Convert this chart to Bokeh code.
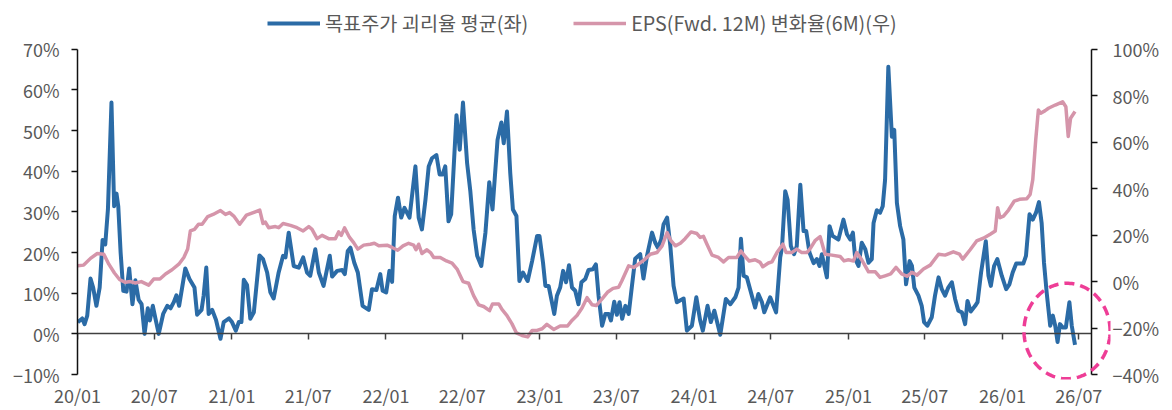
import numpy as np
import pandas as pd
from bokeh.plotting import figure
from bokeh.models import (Range1d, LinearAxis, FixedTicker, Legend, LegendItem, PolyAnnotation)
from bokeh.embed import file_html
from bokeh.resources import INLINE

# ---- data (weeks since 2020-01-01, values in %) ----
blue_week = [0.1,1.6,2.4,3.3,4.4,5.3,6.4,7.5,8.5,9.4,
             10.3,11.5,12.4,13.2,13.8,14.6,15.5,16.6,17.5,18.6,
             19.6,20.7,21.7,22.7,23.8,24.5,25.5,26.5,27.5,29.0,
             30.4,31.5,32.6,33.5,34.4,36.5,37.9,39.6,40.5,42.0,
             42.7,43.6,44.4,45.6,46.9,48.4,49.5,51.3,52.3,53.6,
             54.6,55.5,56.3,57.4,58.5,59.7,61.6,62.8,64.2,65.3,
             66.4,68.1,69.6,70.4,71.5,73.2,74.9,76.4,77.7,78.8,
             80.5,81.7,83.3,85.4,86.2,87.9,89.6,90.5,91.5,92.4,
             93.7,94.9,96.5,98.6,99.7,101.2,102.5,103.3,104.5,105.6,
             106.5,107.4,108.5,109.6,110.7,112.4,114.4,115.5,116.6,117.8,
             118.9,120.0,121.5,122.6,123.6,124.5,125.6,126.5,128.3,129.4,
             130.5,131.9,133.0,134.1,135.3,136.7,138.1,139.4,140.5,142.2,
             143.5,144.3,145.4,146.5,147.4,148.6,149.6,150.8,152.4,153.9,
             155.6,156.4,157.6,158.4,159.5,161.4,162.3,163.4,164.4,165.4,
             166.4,167.4,168.5,169.6,170.6,171.9,173.0,174.5,175.5,176.4,
             177.6,178.7,179.8,180.6,181.7,182.6,183.5,184.4,185.5,186.6,
             187.7,188.8,190.5,191.6,192.8,194.5,195.6,196.5,197.6,198.4,
             199.6,200.7,201.8,202.9,205.2,206.3,208.0,209.5,210.8,211.7,
             213.3,214.4,215.6,217.6,219.5,221.0,222.7,223.8,224.6,225.5,
             226.6,228.3,229.4,230.5,231.7,232.5,234.5,236.5,237.9,238.5,
             239.6,240.4,241.5,242.6,243.5,244.7,245.8,246.7,247.8,249.2,
             250.3,251.2,252.0,253.7,254.6,255.6,257.6,259.3,260.5,261.6,
             262.5,263.3,264.4,265.5,266.7,267.8,268.9,269.5,270.6,271.7,
             272.6,273.4,274.5,275.7,276.5,277.4,278.5,279.6,280.5,281.7,
             282.5,283.3,284.7,285.8,286.6,287.7,289.2,290.3,291.5,292.6,
             293.7,294.8,296.0,297.1,298.2,299.4,300.5,301.3,302.4,303.9,
             304.7,305.9,307.5,308.4,309.2,310.3,311.4,312.9,314.4,315.5,
             316.6,317.8,320.2,321.1,322.3,323.4,324.5,325.5,326.4,327.2,
             328.1,329.3,330.2,331.0,331.8,332.6,333.5,334.6,335.8,336.6,
             337.7]
blue_val = [2.9,3.8,2.4,4.5,13.6,11.4,6.9,11.4,23.1,22,
            30.6,56.9,31.4,34.5,31.4,20,10.6,10.4,16.1,7.3,
            13.2,8.4,7.3,0,6.3,3.3,6.9,3.4,0,4.9,
            6.9,6.3,7.8,9.5,6.9,16.1,13.5,11.4,4.7,5.9,
            9.4,16.3,4.9,5.9,3.4,-1.2,2.9,3.8,2.9,0.8,
            2.9,2.9,13.3,12,3.7,5.3,19.3,18.4,15.1,10.2,
            8.7,15.1,19.2,18.8,24.9,16.7,16.3,18.8,15.1,14.3,
            20.8,15.1,11.8,19.2,14.1,15.5,15.7,14.7,20.4,21.2,
            17.5,15.1,6.9,5.9,11,10.8,14.7,10.6,10.2,15.5,
            12.8,29,33.5,28.6,31,28.6,41.2,28.6,25.7,33,
            41.2,43.2,44,39.2,39.2,41.2,27.7,29.4,53.8,45.3,
            56.9,42,35,25.7,19.2,16.7,24.9,37.3,30.6,47.7,
            52,46.9,54.7,39.6,30.6,29,13,15.1,13,17.9,
            24.1,24.1,17.5,11.8,11.8,4.9,9.4,11.4,15.5,12.7,
            16.9,11.4,10.6,7.3,12.7,13.5,15.7,15.9,17.1,9.4,
            2,4.9,4.9,3.3,7.9,4.7,7.8,3.7,6.9,4.9,
            11.8,18.5,19.6,13.6,19.2,24.9,22.4,21.2,23.2,26.9,
            28.6,21.6,11.8,7.8,8.7,0.8,2,9,3.3,0.8,
            6.9,2.9,5.7,-0.2,8.6,7.3,9,11.4,23.4,14.3,
            13.9,9.4,6.5,9.8,7.8,5.3,9,5.3,18.8,21.2,
            35.1,33,21.6,19.6,21.6,36.7,25.3,25.3,20,17.4,
            18.4,16.7,19.6,13.9,26.5,24.1,23.2,28.1,24.5,23.2,
            24.9,18.4,16.7,22.4,20.8,17.5,18.4,27.3,30.4,29.8,
            31.4,37.9,65.7,48.5,50.2,32.2,26.5,23.2,12.2,17.9,
            16.7,11.4,9.4,6.9,2.9,2,4.1,9.4,13.9,11,
            9.4,11.4,12.7,8.6,5.7,5.3,2.4,8.1,5.5,6.9,
            7.8,15.1,22.8,14.3,11.8,16.7,18.4,14.3,11,12.2,
            15.1,17.3,17.3,19.2,29.4,28.1,29.8,32.4,27.3,17.5,
            10.2,2,4.5,2,-2,2.4,1.6,1.6,7.8,2,
            -2.7]

pink_week = [0.1,2.1,4.4,6.7,8.9,10.6,12.5,14.3,16.2,17.9,
             19.6,21.6,24.1,25.8,27.9,29.8,32.0,34.3,36.0,37.3,
             38.2,39.6,41.0,42.2,44.1,45.9,48.4,50.1,51.5,52.9,
             54.9,57.2,59.5,61.7,62.8,63.6,64.7,67.0,68.1,69.6,
             72.1,74.3,76.4,78.3,79.4,81.1,82.8,85.0,87.3,88.4,
             89.3,90.4,92.1,93.5,94.9,96.9,99.1,100.5,102.0,104.8,
             106.5,108.4,110.2,112.1,113.8,114.6,115.5,116.6,118.3,119.5,
             120.6,122.8,124.9,126.8,128.5,130.5,132.4,134.1,135.8,137.5,
             139.5,140.5,142.6,143.7,145.4,147.1,148.6,150.5,152.4,153.9,
             155.6,157.3,158.9,161.2,163.4,165.9,167.4,169.1,170.8,172.5,
             174.2,175.6,177.6,179.4,181.3,183.2,184.3,186.6,188.3,189.9,
             192.2,193.9,196.2,197.9,199.6,200.7,202.4,204.1,205.7,207.7,
             209.7,210.8,211.9,213.1,214.8,217.0,218.7,220.4,223.2,224.6,
             226.0,227.4,229.4,231.1,232.0,233.9,235.1,236.8,238.8,239.9,
             241.8,243.5,245.2,246.9,248.1,249.8,251.4,253.1,255.4,258.2,
             259.5,261.0,262.7,263.8,265.5,267.8,270.1,271.7,273.4,275.3,
             277.1,279.0,280.8,282.5,284.2,286.4,288.7,291.5,293.7,296.5,
             298.6,299.7,302.2,304.4,306.7,309.0,310.7,311.5,312.3,313.5,
             315.2,317.1,318.9,321.4,322.5,323.4,324.4,325.3,326.1,327.6,
             328.7,331.0,333.5,334.6,335.4,336.2,337.7]
pink_val = [6.8,7.1,10,12.1,11.8,7.5,3.7,0.8,-0.3,0,
            -0.6,0,-1.5,1.1,1.1,3.3,5.1,7.5,10.4,14,
            21.8,22.5,24.7,24.7,28,28.9,30.6,28.9,29.7,28.2,
            24.7,28.6,29.7,30.8,25,25.6,23.2,23.7,23.2,25,
            24.2,23.2,21.8,23.7,22.5,18.5,19.9,18.5,18.5,21.4,
            19.9,23.1,19,16.8,14,15.7,16.1,16.5,15.4,15.7,
            14.7,13.5,15.4,16.5,15.7,13.7,16.1,12.1,13.7,12.5,
            10.4,10.4,8.9,8,5.4,0,-0.7,-6,-10,-10.7,
            -12.5,-9.6,-9.6,-12,-14.6,-18.2,-22.1,-23.2,-23.8,-21,
            -21,-20.3,-18.4,-20.6,-19.1,-19.1,-16.7,-14.6,-11.4,-6.9,
            -10,-10.3,-7.4,-4.6,-2.9,-2.4,0.4,6.8,6.1,7.5,
            9.7,11.8,12.5,15.4,21.1,18,15.4,16.5,18.5,21.4,
            20.7,19,19.5,16.1,11.4,10.4,8.5,10.4,10.4,13.2,
            10.8,8.9,9.4,8.3,6.4,8,8.5,12.5,16.1,12.5,
            12.5,14,12.5,12.5,14.3,17.8,19.4,11.8,11.4,10.8,
            8.9,9.4,8.9,12.5,9.4,4.2,4.2,1.8,2.5,3.3,
            6.1,3.3,2.3,4,2.8,5.4,7.1,11.8,11.4,12.8,
            11.8,9.7,13.7,17.5,18.7,20.4,21.8,31.8,27.5,28.2,
            30.8,34.6,35.4,35.7,37.5,43.9,61,73.9,72.5,73.6,
            74.6,76,77.4,75.3,62.5,70.3,73.2]

series_names = ["목표주가 괴리율 평균(좌)", "EPS(Fwd. 12M) 변화율(6M)(우)"]
tick_dates = ["2020-01-01", "2020-07-01", "2021-01-01", "2021-07-01", "2022-01-01",
              "2022-07-01", "2023-01-01", "2023-07-01", "2024-01-01", "2024-07-01",
              "2025-01-01", "2025-07-01", "2026-01-01", "2026-07-01"]
left_ticks = [-10, 0, 10, 20, 30, 40, 50, 60, 70]
right_ticks = [-40, -20, 0, 20, 40, 60, 80, 100]
axis_start, axis_end = "2020-01-01", "2026-08-01"

BLUE = "#2B6BA6"
PINK = "#D595AA"
MAGENTA = "#EE3D96"
TXT = "#595959"
FONT = "Noto Sans CJK KR"

def ms(d):
    return pd.Timestamp(d).value / 1e6

base = pd.Timestamp(axis_start)
blue_x = base + pd.to_timedelta(np.array(blue_week) * 7, unit="D")
pink_x = base + pd.to_timedelta(np.array(pink_week) * 7, unit="D")

# The plotting frame is a bit larger than the drawn axes (axes use bounds), so that
# the legend at the top and the highlight ellipse at the right are not clipped.
L_LO, L_HI = -11.22, 80.03          # left scale limits of the frame
K = 140 / 80                        # right scale units per left unit
p = figure(width=1172, height=410, output_backend="svg", toolbar_location=None,
           x_axis_type=None, y_axis_type=None,
           x_range=Range1d(pd.Timestamp(axis_start), pd.Timestamp("2026-09-14")),
           y_range=Range1d(L_LO, L_HI),
           min_border_left=77, min_border_right=62, min_border_top=8, min_border_bottom=29)
p.extra_y_ranges = {"right": Range1d(-40 + (L_LO + 10) * K, 100 + (L_HI - 70) * K)}
p.outline_line_color = None
p.background_fill_color = "white"
p.border_fill_color = "white"

tick_ms = [ms(d) for d in tick_dates]
tick_text = [pd.Timestamp(d).strftime("%y/%m") for d in tick_dates]

# zero line with downward ticks (at y = 0), no labels
xa_line = LinearAxis(ticker=FixedTicker(ticks=tick_ms),
                     major_label_overrides={m: "" for m in tick_ms},
                     fixed_location=0, bounds=(ms(axis_start), ms(axis_end)),
                     major_label_text_font_size="1px",
                     major_tick_in=6, major_tick_out=0, minor_tick_line_color=None,
                     axis_line_color="#404040", axis_line_width=1.5,
                     major_tick_line_color="#404040", major_tick_line_width=1.5,
                     major_label_standoff=0)
p.add_layout(xa_line, "above")

# labels at the bottom
xa_lab = LinearAxis(ticker=FixedTicker(ticks=tick_ms),
                    major_label_overrides=dict(zip(tick_ms, tick_text)),
                    axis_line_color=None, major_tick_line_color=None, minor_tick_line_color=None,
                    major_tick_in=0, major_tick_out=0, major_label_standoff=2,
                    major_label_text_font=FONT, major_label_text_font_size="18px",
                    major_label_text_color=TXT)
p.add_layout(xa_lab, "below")

def lab(v):
    return (f"{v}%").replace("-", "\u2212")

ya_l = LinearAxis(ticker=FixedTicker(ticks=left_ticks), bounds=(-10, 70),
                  major_label_overrides={v: lab(v) for v in left_ticks},
                  major_tick_out=6, major_tick_in=0, minor_tick_line_color=None,
                  axis_line_color="#111111", axis_line_width=1.5,
                  major_tick_line_color="#111111", major_tick_line_width=1.5,
                  major_label_standoff=12, major_label_text_font=FONT,
                  major_label_text_font_size="18px", major_label_text_color=TXT)
p.add_layout(ya_l, "left")

# right labels (in the right panel, next to the frame edge)
ya_r_lab = LinearAxis(y_range_name="right", ticker=FixedTicker(ticks=right_ticks),
                      major_label_overrides={v: lab(v) for v in right_ticks},
                      axis_line_color=None, major_tick_line_color=None, minor_tick_line_color=None,
                      major_tick_out=0, major_tick_in=0, major_label_standoff=2,
                      major_label_text_font=FONT, major_label_text_font_size="18px",
                      major_label_text_color=TXT)
p.add_layout(ya_r_lab, "right")

# right axis line with ticks at the end date
ya_r_line = LinearAxis(y_range_name="right", ticker=FixedTicker(ticks=right_ticks), bounds=(-40, 100),
                       fixed_location=ms(axis_end),
                       major_label_overrides={v: "" for v in right_ticks},
                       major_label_text_font_size="1px", major_label_standoff=0,
                       major_tick_out=6, major_tick_in=0, minor_tick_line_color=None,
                       axis_line_color="#111111", axis_line_width=1.5,
                       major_tick_line_color="#111111", major_tick_line_width=1.5)
p.add_layout(ya_r_line, "right")

rb = p.line(x=blue_x, y=blue_val, line_color=BLUE, line_width=4, line_join="round")
rp = p.line(x=pink_x, y=pink_val, line_color=PINK, line_width=3.5, line_join="round",
            y_range_name="right")

# highlight ellipse
t = np.linspace(0, 2 * np.pi, 160)
cx = ms("2026-06-03")
rx = 102 * 86400000.0
ex = (cx + rx * np.cos(t)).tolist()
ey = (0.7 + 11.75 * np.sin(t)).tolist()
p.add_layout(PolyAnnotation(xs=ex, ys=ey, fill_color=None, fill_alpha=0,
                            line_color=MAGENTA, line_alpha=1.0, line_width=3.5, line_dash="10 6"))

legend = Legend(items=[LegendItem(label=series_names[0], renderers=[rb]),
                       LegendItem(label=series_names[1], renderers=[rp])],
                orientation="horizontal", location=(190, 342),
                glyph_width=53, glyph_height=20, label_standoff=5, spacing=45,
                padding=0, margin=0, border_line_color=None, background_fill_alpha=0,
                label_text_font=FONT, label_text_font_size="19.7px", label_text_color=TXT)
p.add_layout(legend, "center")

open("out.html", "w").write(file_html(p, INLINE))
